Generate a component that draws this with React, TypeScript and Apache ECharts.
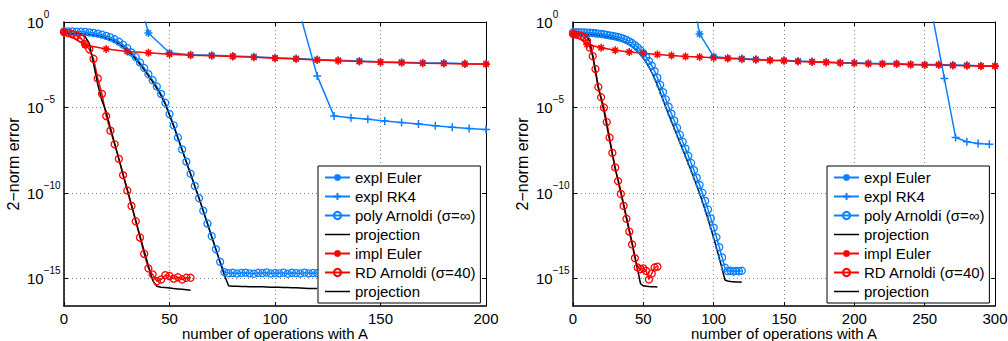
import React, { useEffect, useRef } from "react";
import * as echarts from "echarts";

// ---------- data (values are log10 of the 2-norm error) ----------
// x positions: start + i * step (number of operations with A)
const leftExplEulerX = { start: 30, step: 10 };
const leftExplEuler = [3.9, -0.64, -1.8, -1.91, -1.94, -1.99, -2.03, -2.09, -2.13, -2.19, -2.24, -2.28, -2.32, -2.35, -2.38, -2.4, -2.43, -2.44];

const leftRK4X = { start: 104, step: 8 };
const leftRK4 = [4.0, 0.4, -3.15, -5.5, -5.59, -5.68, -5.78, -5.88, -5.96, -6.06, -6.15, -6.23, -6.29];

const leftPolyX = { start: 0, step: 2 };
const leftPoly = [-0.55, -0.55, -0.55, -0.56, -0.57, -0.58, -0.61, -0.64, -0.68, -0.74, -0.81, -0.9, -1.01, -1.15, -1.33, -1.53, -1.78, -2.05, -2.36, -2.69, -3.05, -3.4, -3.77, -4.2, -4.72, -5.38, -6.04, -6.75, -7.45, -8.16, -8.87, -9.58, -10.3, -11.03, -11.78, -12.52, -13.28, -14.02, -14.62, -14.68, -14.66, -14.7, -14.67, -14.65, -14.69, -14.71, -14.66, -14.68, -14.64, -14.7, -14.67, -14.69, -14.65, -14.71, -14.66, -14.68, -14.7, -14.65, -14.69, -14.67, -14.68];
const leftPolyProj = [-0.67, -0.67, -0.67, -0.68, -0.69, -0.7, -0.73, -0.76, -0.8, -0.86, -0.93, -1.02, -1.13, -1.27, -1.45, -1.65, -1.9, -2.17, -2.47, -2.8, -3.15, -3.5, -3.87, -4.3, -4.8, -5.45, -6.1, -6.8, -7.5, -8.2, -8.9, -9.6, -10.3, -11.05, -11.8, -12.55, -13.3, -14.05, -14.8, -15.42, -15.45, -15.45, -15.46, -15.46, -15.47, -15.47, -15.48, -15.48, -15.49, -15.5, -15.5, -15.51, -15.52, -15.52, -15.53, -15.54, -15.55, -15.56, -15.57, -15.57, -15.58];

const leftImplEulerX = { start: 0, step: 10 };
const leftImplEuler = [-0.6, -1.35, -1.58, -1.72, -1.8, -1.88, -1.94, -1.97, -2.02, -2.06, -2.12, -2.16, -2.22, -2.27, -2.31, -2.35, -2.38, -2.41, -2.43, -2.46, -2.47];

const leftRDX = { start: 0, step: 2 };
const leftRD = [-0.6, -0.65, -0.72, -0.8, -0.95, -1.3, -1.6, -2.15, -3.3, -4.2, -5.5, -6.35, -7.15, -8.0, -8.95, -9.85, -10.75, -11.65, -12.6, -13.55, -14.4, -14.75, -15.15, -15.05, -14.8, -14.85, -15.0, -14.92, -15.05, -14.95, -14.95];
const leftRDProj = [-0.67, -0.67, -0.68, -0.7, -0.74, -0.85, -1.25, -2.45, -3.65, -4.6, -5.25, -6.2, -7.1, -8.0, -8.9, -9.8, -10.7, -11.6, -12.5, -13.4, -14.25, -15.1, -15.45, -15.5, -15.52, -15.55, -15.58, -15.6, -15.62, -15.65, -15.68];

const rightExplEulerX = { start: 80, step: 10 };
const rightExplEuler = [3.7, -0.7, -2.02, -2.1, -2.14, -2.18, -2.22, -2.24, -2.28, -2.31, -2.34, -2.37, -2.38, -2.41, -2.42, -2.43, -2.47, -2.49, -2.49, -2.51, -2.53, -2.55, -2.55];

const rightRK4X = { start: 248, step: 8 };
const rightRK4 = [4.0, 0.17, -3.3, -6.75, -7.0, -7.1, -7.14];

const rightPolyX = { start: 0, step: 2 };
const rightPoly = [-0.6, -0.6, -0.6, -0.61, -0.61, -0.62, -0.63, -0.64, -0.66, -0.68, -0.7, -0.72, -0.75, -0.78, -0.81, -0.84, -0.88, -0.92, -0.98, -1.05, -1.13, -1.23, -1.35, -1.49, -1.65, -1.83, -2.04, -2.28, -2.55, -2.87, -3.25, -3.67, -4.1, -4.52, -4.95, -5.36, -5.77, -6.18, -6.59, -7.0, -7.4, -7.82, -8.24, -8.66, -9.1, -9.52, -9.98, -10.46, -10.96, -11.48, -12.02, -12.58, -13.16, -13.76, -14.36, -14.56, -14.54, -14.58, -14.55, -14.57, -14.54];
const rightPolyProj = [-0.7, -0.7, -0.7, -0.71, -0.71, -0.72, -0.73, -0.74, -0.76, -0.78, -0.8, -0.83, -0.86, -0.89, -0.92, -0.96, -1.0, -1.06, -1.13, -1.21, -1.31, -1.43, -1.57, -1.73, -1.91, -2.12, -2.36, -2.63, -2.95, -3.3, -3.7, -4.12, -4.55, -4.98, -5.4, -5.81, -6.22, -6.63, -7.04, -7.45, -7.86, -8.28, -8.7, -9.13, -9.57, -10.03, -10.5, -11.0, -11.52, -12.06, -12.62, -13.2, -13.8, -14.42, -15.08, -15.14, -15.17, -15.18, -15.19, -15.2, -15.21];

const rightImplEulerX = { start: 0, step: 10 };
const rightImplEuler = [-0.7, -1.3, -1.5, -1.65, -1.76, -1.82, -1.9, -1.96, -2.02, -2.05, -2.09, -2.13, -2.17, -2.21, -2.25, -2.27, -2.31, -2.34, -2.37, -2.4, -2.41, -2.44, -2.45, -2.46, -2.5, -2.52, -2.52, -2.54, -2.56, -2.58, -2.58];

const rightRDX = { start: 0, step: 2 };
const rightRD = [-0.7, -0.73, -0.77, -0.82, -0.9, -1.1, -1.5, -2.0, -2.75, -3.8, -4.4, -5.0, -5.85, -6.75, -7.65, -8.5, -9.3, -10.05, -10.75, -11.5, -12.25, -13.0, -13.8, -14.35, -14.45, -14.4, -14.55, -15.05, -14.7, -14.35, -14.3];
const rightRDProj = [-0.72, -0.72, -0.73, -0.74, -0.76, -0.86, -1.15, -1.95, -2.95, -3.85, -4.5, -5.2, -6.05, -6.9, -7.75, -8.6, -9.2, -9.9, -10.65, -11.4, -12.15, -12.9, -13.7, -14.5, -15.3, -15.42, -15.44, -15.46, -15.47, -15.48, -15.49];

const xMaxLeft = 200;
const xMaxRight = 300;
const xTickStep = 50;
const yMin = -16.6;
const yMax = 0;
const yTickExponents = [-15, -10, -5, 0];

const legendNames = [
  "expl Euler",
  "expl RK4",
  "poly Arnoldi (σ=∞)",
  "projection (poly)",
  "impl Euler",
  "RD Arnoldi (σ=40)",
  "projection (RD)",
];

// ---------- styling ----------
const FONT = "'Liberation Sans', Arial, Helvetica, sans-serif";
const BLUE = "#0a80ff";
const RED = "#ff0000";
const BLACK = "#000000";
const ASTERISK = "path://M5,0L5,10M0,5L10,5M1.6,1.6L8.4,8.4M1.6,8.4L8.4,1.6";
const PLUS = "path://M5,0L5,10M0,5L10,5";
const LINE_ICON = "path://M0,0L25,0L25,1.5L0,1.5Z";

type Kind = "star" | "plus" | "circle" | "none";

function toData(spec: { start: number; step: number }, vals: number[]) {
  return vals.map((v, i) => [spec.start + i * spec.step, v]);
}

function mkSeries(
  name: string,
  spec: { start: number; step: number },
  vals: number[],
  kind: Kind,
  color: string,
  grid: number
) {
  const base: any = {
    type: "line",
    name,
    xAxisIndex: grid * 2,
    yAxisIndex: grid * 2,
    data: toData(spec, vals),
    clip: true,
    silent: true,
    emphasis: { disabled: true },
    lineStyle: { color, width: 1.5 },
  };
  if (kind === "none") {
    base.symbol = "none";
    base.itemStyle = { color };
  } else if (kind === "circle") {
    base.symbol = "circle";
    base.symbolSize = 7;
    base.itemStyle = { color: "rgba(0,0,0,0)", borderColor: color, borderWidth: 1.3 };
  } else {
    base.symbol = kind === "star" ? ASTERISK : PLUS;
    base.symbolSize = 8;
    base.itemStyle = { color, borderColor: color, borderWidth: 1.5 };
  }
  return base;
}

function yLabelFormatter(v: number) {
  const e = Math.round(v);
  return e === 0 ? "{b|10}{s|0}" : `{b|10}{s|\u2212${-e}}`;
}

function axesFor(grid: number, xMax: number) {
  const xBottom = {
    type: "value",
    gridIndex: grid,
    position: "bottom",
    min: 0,
    max: xMax,
    interval: xTickStep,
    axisLine: { show: true, onZero: false, lineStyle: { color: BLACK, width: 1.5 } },
    axisTick: { show: true, inside: true, length: 4, lineStyle: { color: BLACK, width: 1 } },
    axisLabel: { show: true, color: BLACK, fontSize: 15, lineHeight: 13, fontFamily: FONT, margin: 6 },
    splitLine: { show: true, lineStyle: { color: "#808080", type: [1, 3], width: 1 } },
    name: "number of operations with A",
    nameLocation: "middle",
    nameGap: 21,
    nameMoveOverlap: false,
    nameTextStyle: { color: BLACK, fontSize: 15, lineHeight: 13, fontFamily: FONT },
  };
  const xTop = {
    type: "value",
    gridIndex: grid,
    position: "top",
    min: 0,
    max: xMax,
    interval: xTickStep,
    axisLine: { show: true, onZero: false, lineStyle: { color: BLACK, width: 1 } },
    axisTick: { show: true, inside: true, length: 4, lineStyle: { color: BLACK, width: 1 } },
    axisLabel: { show: false },
    splitLine: { show: false },
  };
  const yLeft = {
    type: "value",
    gridIndex: grid,
    position: "left",
    min: yMin,
    max: yMax,
    axisLine: { show: true, onZero: false, lineStyle: { color: BLACK, width: 1.5 } },
    axisTick: { show: true, inside: true, length: 4, customValues: yTickExponents, lineStyle: { color: BLACK, width: 1 } },
    axisLabel: {
      show: true,
      customValues: yTickExponents,
      formatter: yLabelFormatter,
      align: "left",
      margin: 37,
      rich: {
        b: { fontSize: 15, fontFamily: FONT, color: BLACK, verticalAlign: "middle" },
        s: { fontSize: 10, fontFamily: FONT, color: BLACK, verticalAlign: "middle", padding: [0, 0, 16, 0] },
      },
    },
    splitLine: { show: true, lineStyle: { color: "#808080", type: [1, 3], width: 1 } },
    name: "2\u2212norm error",
    nameLocation: "middle",
    nameGap: 43,
    nameMoveOverlap: false,
    nameTextStyle: { color: BLACK, fontSize: 16, fontFamily: FONT },
  };
  const yRight = {
    type: "value",
    gridIndex: grid,
    position: "right",
    min: yMin,
    max: yMax,
    axisLine: { show: true, onZero: false, lineStyle: { color: BLACK, width: 1 } },
    axisTick: { show: true, inside: true, length: 4, customValues: yTickExponents, lineStyle: { color: BLACK, width: 1 } },
    axisLabel: { show: false },
    splitLine: { show: false },
  };
  return { x: [xBottom, xTop], y: [yLeft, yRight] };
}

function legendFor(left: number) {
  return {
    show: true,
    orient: "vertical",
    left,
    top: 166,
    data: legendNames.map((n) => (n.indexOf("projection") === 0 ? { name: n, icon: LINE_ICON } : { name: n })),
    selectedMode: false,
    backgroundColor: "#ffffff",
    borderColor: BLACK,
    borderWidth: 1,
    borderRadius: 0,
    padding: [4, 4, 4, 6],
    itemGap: 4,
    itemWidth: 25,
    itemHeight: 9,
    textStyle: { color: BLACK, fontSize: 15, fontFamily: FONT },
    formatter: (name: string) => (name.indexOf("projection") === 0 ? "projection" : name),
    z: 10,
  };
}

export default function App() {
  const ref = useRef<HTMLDivElement>(null);
  useEffect(() => {
    if (!ref.current) return;
    const chart = echarts.init(ref.current, undefined, { renderer: "svg" });
    const a0 = axesFor(0, xMaxLeft);
    const a1 = axesFor(1, xMaxRight);
    const series = [
      mkSeries(legendNames[0], leftExplEulerX, leftExplEuler, "star", BLUE, 0),
      mkSeries(legendNames[1], leftRK4X, leftRK4, "plus", BLUE, 0),
      mkSeries(legendNames[2], leftPolyX, leftPoly, "circle", BLUE, 0),
      mkSeries(legendNames[3], leftPolyX, leftPolyProj, "none", BLACK, 0),
      mkSeries(legendNames[4], leftImplEulerX, leftImplEuler, "star", RED, 0),
      mkSeries(legendNames[5], leftRDX, leftRD, "circle", RED, 0),
      mkSeries(legendNames[6], leftRDX, leftRDProj, "none", BLACK, 0),
      mkSeries(legendNames[0], rightExplEulerX, rightExplEuler, "star", BLUE, 1),
      mkSeries(legendNames[1], rightRK4X, rightRK4, "plus", BLUE, 1),
      mkSeries(legendNames[2], rightPolyX, rightPoly, "circle", BLUE, 1),
      mkSeries(legendNames[3], rightPolyX, rightPolyProj, "none", BLACK, 1),
      mkSeries(legendNames[4], rightImplEulerX, rightImplEuler, "star", RED, 1),
      mkSeries(legendNames[5], rightRDX, rightRD, "circle", RED, 1),
      mkSeries(legendNames[6], rightRDX, rightRDProj, "none", BLACK, 1),
    ];
    chart.setOption({
      animation: false,
      backgroundColor: "#ffffff",
      textStyle: { fontFamily: FONT },
      grid: [
        { left: 64, top: 22, width: 422, height: 284, containLabel: false, outerBoundsMode: "none" },
        { left: 573, top: 22, width: 422, height: 284, containLabel: false, outerBoundsMode: "none" },
      ],
      xAxis: [...a0.x, ...a1.x],
      yAxis: [...a0.y, ...a1.y],
      legend: [legendFor(318), legendFor(827)],
      series,
    });
    return () => chart.dispose();
  }, []);
  return (
    <div
      ref={ref}
      style={{ position: "fixed", left: 0, top: 0, width: 1008, height: 341, background: "#fff" }}
    />
  );
}
